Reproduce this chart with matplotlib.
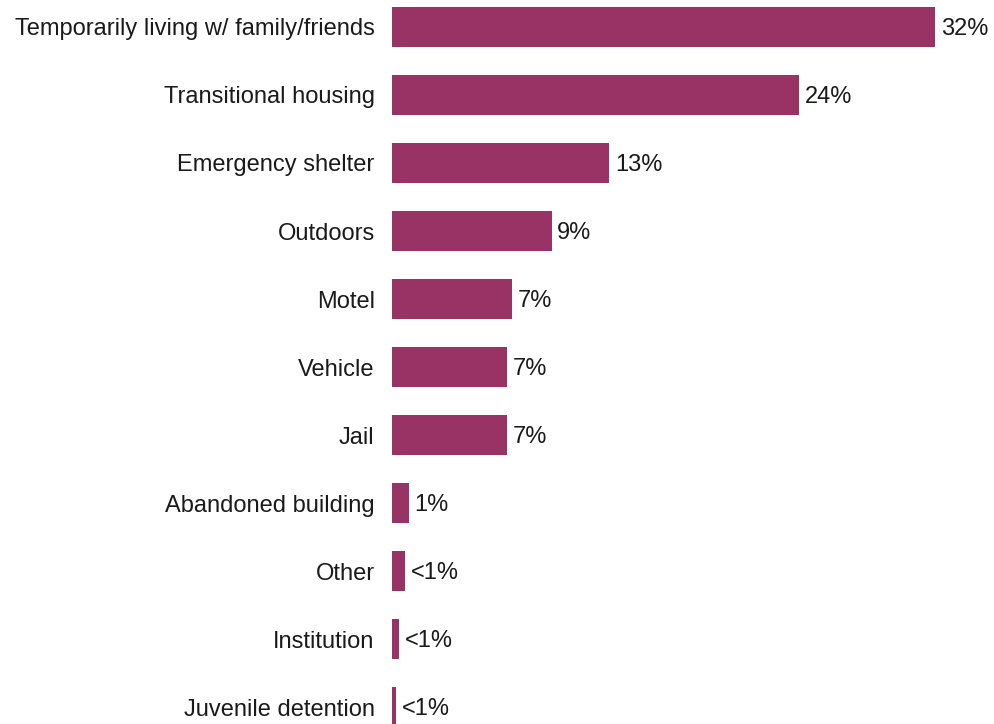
import matplotlib.pyplot as plt

# data ------------------------------------------------------------------------
categories = ['Temporarily living w/ family/friends', 'Transitional housing',
              'Emergency shelter', 'Outdoors', 'Motel', 'Vehicle', 'Jail',
              'Abandoned building', 'Other', 'Institution', 'Juvenile detention']
values = [32.0, 24.0, 12.8, 9.4, 7.1, 6.8, 6.8, 1.0, 0.76, 0.41, 0.24]
value_labels = ['32%', '24%', '13%', '9%', '7%', '7%', '7%', '1%', '<1%', '<1%', '<1%']

plt.rcParams['font.family'] = ['Liberation Sans', 'DejaVu Sans']

W, H = 994, 724
fig = plt.figure(figsize=(W / 100, H / 100), dpi=100)
ax = fig.add_axes([392 / W, 0, 1 - 392 / W, 1])

y = list(range(len(categories)))
ax.barh(y, values, height=40 / 68, color='#993366')

for yi, v, lab in zip(y, values, value_labels):
    ax.annotate(lab, (v, yi), xytext=(4, -1.5), textcoords='offset points',
                va='center', ha='left', fontsize=17, color='#1a1a1a')

ax.set_yticks(y)
ax.set_yticklabels(categories, fontsize=17, color='#1a1a1a')
ax.tick_params(axis='y', length=0, pad=12.5)
ax.set_xticks([])
ax.set_xlim(0, 602 / 16.97)
ax.set_ylim((H - 27) / 68, -27 / 68)
for s in ax.spines.values():
    s.set_visible(False)

fig.savefig('out.png', dpi=100)
